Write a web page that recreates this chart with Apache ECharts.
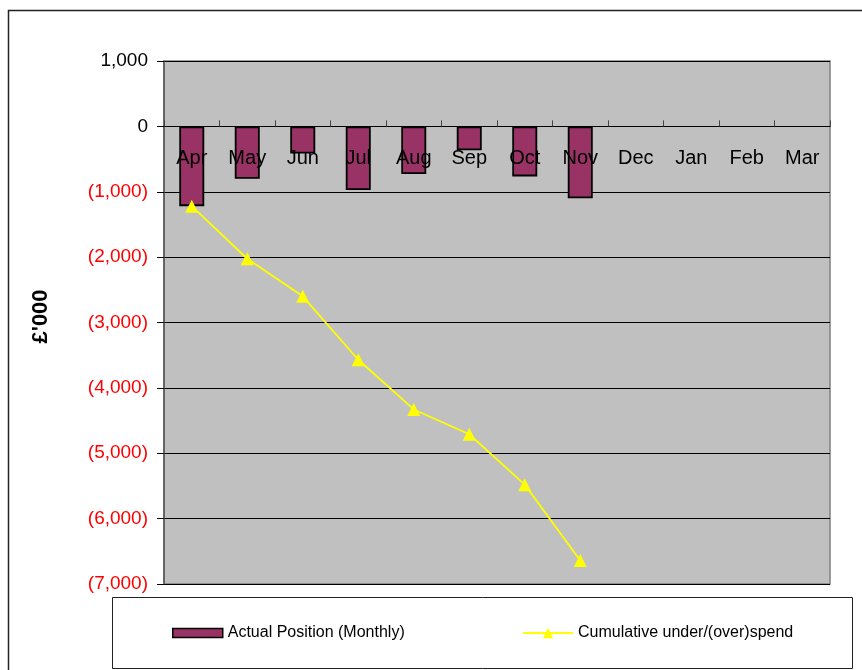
<!DOCTYPE html>
<html>
<head>
<meta charset="utf-8">
<script src="https://cdn.jsdelivr.net/npm/echarts@6/dist/echarts.min.js"></script>
<style>
html,body{margin:0;padding:0;background:#fff;}
#c{width:862px;height:670px;}
</style>
</head>
<body>
<div id="c"></div>
<script>
var categories = ['Apr','May','Jun','Jul','Aug','Sep','Oct','Nov','Dec','Jan','Feb','Mar'];
var monthly = [-1220, -800, -415, -975, -730, -365, -765, -1100, null, null, null, null];
var cumulative = [-1220, -2025, -2600, -3570, -4330, -4710, -5480, -6640, null, null, null, null];
var seriesNames = ['Actual Position (Monthly)', 'Cumulative under/(over)spend'];
var yTitle = "£'000";
var yMin = -7000, yMax = 1000;

function fmt(v){
  var s = Math.abs(v).toString().replace(/\B(?=(\d{3})+(?!\d))/g, ',');
  return v < 0 ? '{neg|(' + s + ')}' : '{pos|' + s + '}';
}

var gridTop = 61, gridBottom = 86, H = 670;
var plotH = H - gridTop - gridBottom;
var zeroOffset = -plotH * (0 - yMin) / (yMax - yMin);

var chart = echarts.init(document.getElementById('c'));
chart.setOption({
  animation: false,
  textStyle: {fontFamily: 'Liberation Sans, Arial, sans-serif'},
  graphic: [
    {type:'rect', shape:{x:8.5, y:10.5, width:900, height:700}, style:{fill:'none', stroke:'#222', lineWidth:1.5}, z:-10},
    {type:'rect', shape:{x:112.5, y:597.5, width:740, height:71}, style:{fill:'#fff', stroke:'#222', lineWidth:1}, z:-5}
  ],
  grid: {left:164, top:gridTop, right:32, bottom:gridBottom, show:true, backgroundColor:'#C0C0C0', borderColor:'#808080', borderWidth:1.5},
  legend: [
    {data:[{name:seriesNames[0], icon:'rect'}], left:167, top:620, itemWidth:50, itemHeight:9,
     textStyle:{fontSize:16, color:'#000'}, itemStyle:{borderColor:'#000', borderWidth:1.5}},
    {data:[seriesNames[1]], left:517, top:620, itemWidth:50, itemHeight:13,
     textStyle:{fontSize:16, color:'#000'}}
  ],
  xAxis: {
    type:'category', data:categories, z:5,
    offset: zeroOffset,
    axisLine:{onZero:false, lineStyle:{color:'#000', width:1}},
    axisTick:{show:true, inside:true, length:6, lineStyle:{color:'#444'}},
    axisLabel:{margin:22, fontSize:20, color:'#000'},
    splitLine:{show:false}
  },
  yAxis: {
    type:'value', min:yMin, max:yMax, interval:1000,
    name: yTitle, nameLocation:'middle', nameGap:112, nameRotate:90,
    nameTextStyle:{fontSize:22, fontWeight:'bold', color:'#000', padding:[0,0,0,12]},
    axisLine:{show:true, lineStyle:{color:'#555', width:1.5}},
    axisTick:{show:true, length:7, lineStyle:{color:'#000'}},
    axisLabel:{margin:16, formatter:fmt,
      rich:{neg:{color:'#FF0000', fontSize:19}, pos:{color:'#000', fontSize:19}}},
    splitLine:{show:true, lineStyle:{color:'#000', width:1}}
  },
  series: [
    {name:seriesNames[0], type:'bar', data:monthly, barWidth:25,
     itemStyle:{color:'#993366', borderColor:'#000', borderWidth:1.8}},
    {name:seriesNames[1], type:'line', data:cumulative, symbol:'triangle', symbolSize:13,
     lineStyle:{color:'#FFFF00', width:1.8}, itemStyle:{color:'#FFFF00'}, z:6}
  ]
});
</script>
</body>
</html>
